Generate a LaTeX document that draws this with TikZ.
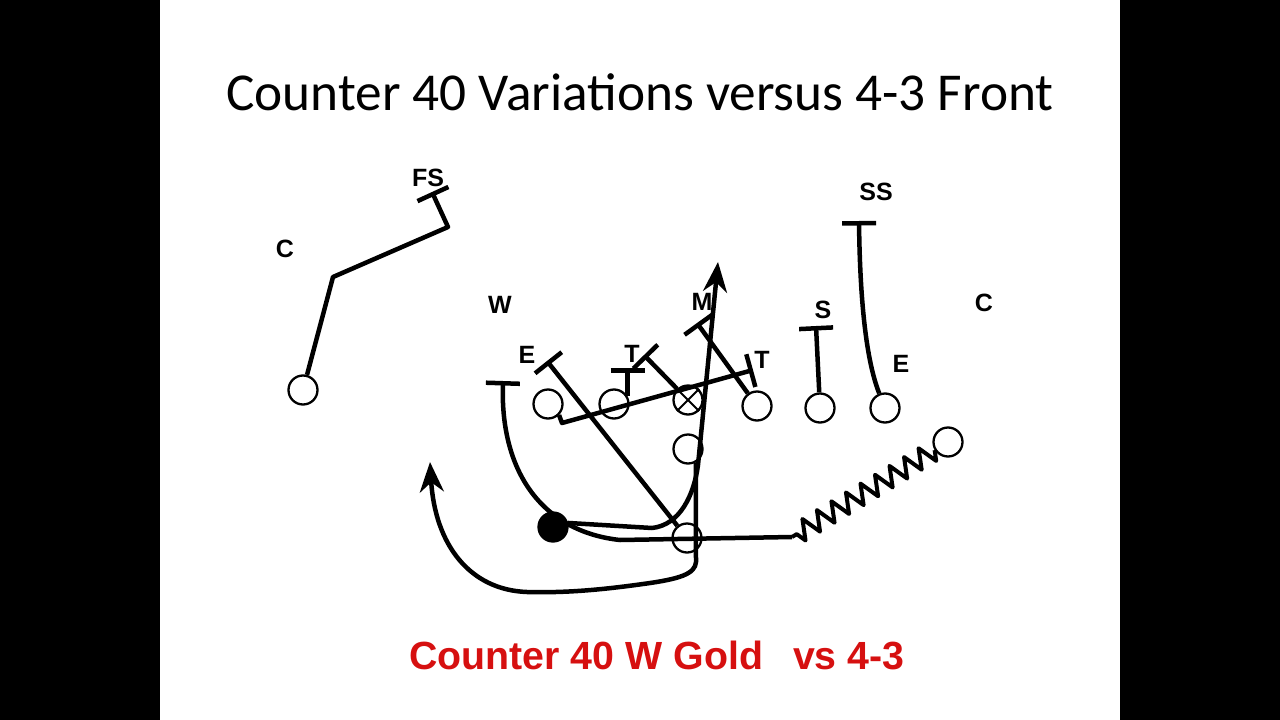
\documentclass[tikz,border=0pt]{standalone}
\usepackage{fontspec}
\setmainfont{Carlito}
\newfontfamily\labelfont{Liberation Sans}
\usetikzlibrary{arrows.meta, decorations.pathmorphing}
\definecolor{playred}{RGB}{214,16,16}

\begin{document}
\begin{tikzpicture}[x=1pt, y=-1pt, line join=round]
  \tikzstyle{player} = [circle, draw, line width=2.3pt, minimum size=29pt, inner sep=0pt]
  \tikzstyle{carrier} = [player, fill=black]
  \tikzstyle{def} = [font=\labelfont\bfseries\fontsize{25}{30}\selectfont, inner sep=0pt]
  \tikzstyle{block} = [line width=4.5pt, -{Bar[width=34pt]}]
  \tikzstyle{route} = [line width=4.5pt, ->, >={Stealth[length=30pt, width=24pt]}]
  \tikzstyle{motion} = [line width=4pt, decorate, decoration={zigzag, segment length=17pt, amplitude=10pt}]

  \useasboundingbox (0,0) rectangle (1280,720);
  \fill (0,0) rectangle (160,720);
  \fill (1120,0) rectangle (1280,720);

  \node[font=\fontsize{53.3}{60}\selectfont, anchor=base] (title) at (640,110) {Counter 40 Variations versus 4-3 Front};

  % offense
  \node[player] (wr) at (303,390) {};
  \node[player] (lt) at (548,404) {};
  \node[player] (lg) at (614,404) {};
  \node[player] (ctr) at (688,400) {};
  \node[player] (rg) at (757,406) {};
  \node[player] (rt) at (820,408) {};
  \node[player] (te) at (885,408) {};
  \node[player] (slot) at (948,442) {};
  \node[player] (fb) at (688,449) {};
  \node[player] (qb) at (687,538) {};
  \node[carrier] (rb) at (553,527) {};
  \draw[line width=2pt] (ctr.45) -- (ctr.225) (ctr.135) -- (ctr.-45);

  % defense
  \node[def] (fs) at (428,178) {FS};
  \node[def] (lc) at (285,249) {C};
  \node[def] (w) at (500,305) {W};
  \node[def] (m) at (702,302) {M};
  \node[def] (le) at (527,355) {E};
  \node[def] (lt2) at (632,354) {T};
  \node[def] (rt2) at (762,360) {T};
  \node[def] (s) at (823,310) {S};
  \node[def] (ss) at (876,192) {SS};
  \node[def] (rc) at (984,303) {C};
  \node[def] (re) at (901,364) {E};

  \coordinate (fsbar) at (432,192);
  \coordinate (ssbar) at (859,221);
  \coordinate (sbar) at (816,326);
  \coordinate (mbar) at (697,323);
  \coordinate (ltbar) at (644,355);
  \coordinate (rtbar) at (753,370);
  \coordinate (ebar) at (547,361);
  \coordinate (wbar) at (503,381);
  \coordinate (wmot) at (792,537);
  \coordinate (hole) at (718,262);
  \coordinate (boot) at (430,462);

  % blocks
  \draw[block] (wr) -- (333,277) -- (448,227) -- (fsbar);
  \draw[block] (te) .. controls (866,360) and (860,300) .. (ssbar);
  \draw[block] (rt) -- (sbar);
  \draw[block] (rg) -- (mbar);
  \draw[block] (ctr) -- (ltbar);
  \draw[block] (lg.30) -- ++(0,-28);
  \draw[block] (lt.-45) -- (562,423) -- (rtbar);
  \draw[block] (qb) -- (ebar);

  % motion and kick out
  \draw[motion] (slot) -- (wmot);
  \draw[block] (wmot) -- (620,540) .. controls (545,532) and (500,475) .. (wbar);

  % ball carrier and fake
  \draw[route] (rb.15) -- (652,528) .. controls (680,525) and (694,495) .. (698,465) -- (hole);
  \draw[route] (fb.-60) -- (696,562) .. controls (695,574) and (680,579) .. (643,584)
    .. controls (600,590) and (565,593) .. (527,592) .. controls (470,590) and (435,545) .. (boot);

  \node[font=\labelfont\bfseries\fontsize{39.3}{44}\selectfont, text=playred, anchor=base] (play) at (657,669) {Counter 40 W Gold\hspace{30pt}vs 4-3};
\end{tikzpicture}
\end{document}
